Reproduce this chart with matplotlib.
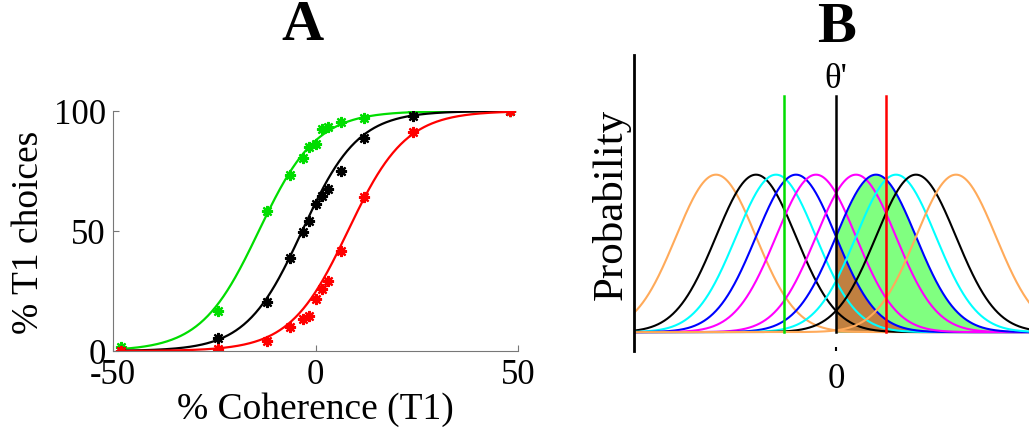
import numpy as np
import matplotlib
matplotlib.use('Agg')
import matplotlib.pyplot as plt

plt.rcParams['font.family'] = ['Liberation Serif', 'DejaVu Serif']
plt.rcParams['mathtext.fontset'] = 'stix'

#%% Panel A data

coherence = [-48, -24, -12, -6.4, -3.2, -1.6, 0, 1.6, 3.2, 6.4, 12, 24, 48]
green_pct = [1.7, 16.6, 58.2, 73.3, 80.5, 85.0, 86.4, 92.7, 93.4, 95.6, 97.1, 100, 100]
black_pct = [0, 5.4, 20.4, 38.6, 49.4, 54.3, 61.2, 64.7, 67.5, 75.0, 88.9, 97.9, 100]
red_pct = [0, 1.0, 4.0, 10.2, 13.4, 14.5, 21.5, 25.9, 29.0, 41.8, 64.3, 91.3, 100]

# logistic fit parameters (midpoint, slope)
fit_mid = {'green': -14.0, 'black': -3.3, 'red': 8.0}
fit_slope = {'green': 0.14, 'black': 0.145, 'red': 0.14}

#%% Panel B data

centers = [-6, -4, -3, -2, -1, 1, 2, 3, 4, 6]
curve_colors = ['#ffaa5a', 'black', 'cyan', 'blue', 'magenta',
                'magenta', 'blue', 'cyan', 'black', '#ffaa5a']
sigma = 2.0
criteria = [-2.6, 0, 2.5]
criteria_colors = ['#00dd00', 'black', 'red']

#%% Figure

fig = plt.figure(figsize=(10.29, 4.35), dpi=100)

axA = fig.add_axes([113/1029, 1-352/435, 405/1029, 240/435])
xs = np.linspace(-48, 48, 400)
for name, col, pct in [('green', '#00dd00', green_pct),
                       ('black', 'black', black_pct),
                       ('red', 'red', red_pct)]:
    fit = 100/(1+np.exp(-fit_slope[name]*(xs-fit_mid[name])))
    axA.plot(xs, fit, color=col, lw=1.6)
    axA.plot(coherence, pct, linestyle='none', marker=(8, 2, 0), ms=8,
             mew=1.6, color=col)

axA.set_xlim(-50, 50)
axA.set_ylim(0, 100)
axA.set_xticks([-50, 0, 50])
axA.set_yticks([0, 50, 100])
axA.set_xticklabels(['-50', '0', '50'])
for s in ['top', 'right']:
    axA.spines[s].set_visible(False)
for s in ['left', 'bottom']:
    axA.spines[s].set_color('#777777')
    axA.spines[s].set_linewidth(0.8)
axA.tick_params(direction='in', length=4, color='#777777', labelsize=25, pad=5)
axA.set_xlabel('% Coherence (T1)', fontsize=27, labelpad=0)
axA.set_ylabel('% T1 choices', fontsize=27, labelpad=6)
for lab in axA.get_xticklabels() + axA.get_yticklabels():
    lab.set_clip_on(False)

axB = fig.add_axes([634/1029, 1-352/435, 395/1029, 296/435])
xg = np.linspace(-10.1, 9.65, 800)
right = xg >= 0
blue_left = np.exp(-(xg-centers[3])**2/(2*sigma**2))
blue_right = np.exp(-(xg-centers[6])**2/(2*sigma**2))
axB.fill_between(xg[right], 0, blue_right[right], color='#80ff80', lw=0, zorder=1)
axB.fill_between(xg[right], 0, blue_left[right], color='#c08040', lw=0, zorder=1.1)
for c, col in zip(centers, curve_colors):
    axB.plot(xg, np.exp(-(xg-c)**2/(2*sigma**2)), color=col, lw=1.5, zorder=2)
for c, col in zip(criteria, criteria_colors):
    axB.plot([c, c], [0, 1.5], color=col, lw=1.8, zorder=3)
axB.text(0, 1.61, "\u03b8'", fontsize=25, ha='center', va='center')

axB.set_xlim(-10.1, 9.65)
axB.set_ylim(-0.12, 1.76)
for s in ['top', 'right', 'bottom']:
    axB.spines[s].set_visible(False)
axB.spines['left'].set_linewidth(2)
axB.set_yticks([])
axB.set_xticks([0])
axB.tick_params(axis='x', direction='in', length=3, width=1.5, labelsize=25, pad=8)
axB.set_ylabel('Probability', fontsize=31, labelpad=2)

fig.text(302/1029, 1-26/435, 'A', fontsize=42, fontweight='bold', ha='center', va='center')
fig.text(837/1029, 1-28/435, 'B', fontsize=42, fontweight='bold', ha='center', va='center')

plt.savefig('out.png', dpi=100)
